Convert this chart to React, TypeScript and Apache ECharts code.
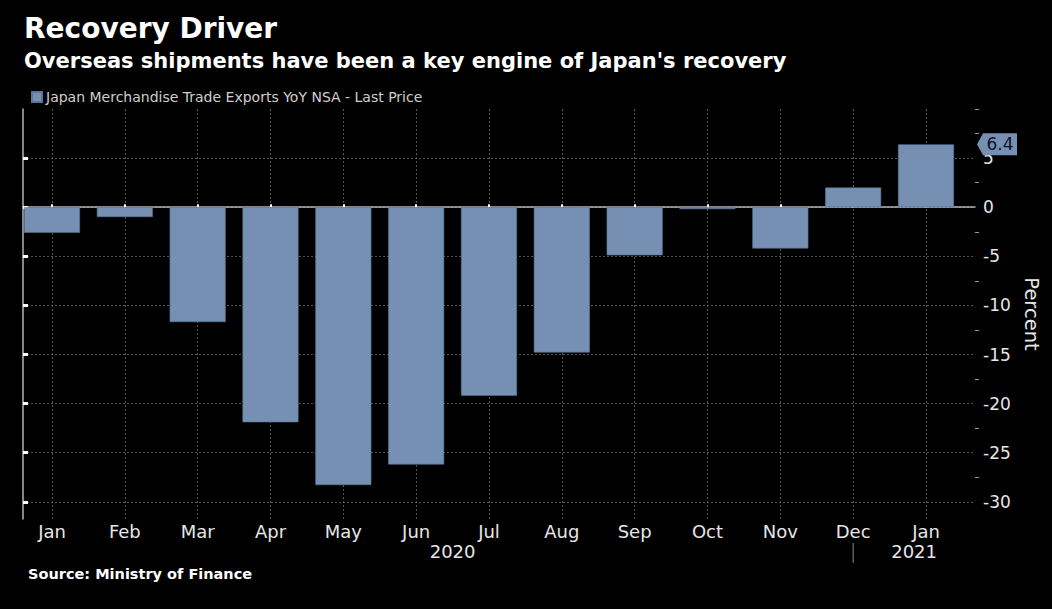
import React, { useEffect, useRef } from "react";
import * as echarts from "echarts";

const monthLabels = ["Jan", "Feb", "Mar", "Apr", "May", "Jun", "Jul", "Aug", "Sep", "Oct", "Nov", "Dec", "Jan"];
const exportsYoY = [-2.6, -1.0, -11.7, -21.9, -28.3, -26.2, -19.2, -14.8, -4.9, -0.2, -4.2, 2.0, 6.4];
const yMajorTicks = [-30, -25, -20, -15, -10, -5, 0, 5];
const yMinorTicks = [-27.5, -22.5, -17.5, -12.5, -7.5, -2.5, 2.5, 7.5, 10];
const yearLabels = ["2020", "2021"];
const Y_MIN = -31.75;
const Y_MAX = 10;

const FONT = "'DejaVu Sans', sans-serif";
const BAR_COLOR = "#7690b4";
const TEXT = "#e6e6e6";
const GRID_COLOR = "#555";
const AXIS_COLOR = "#b4b4b4";

const TOP = 109;
const BOTTOM = 90;

export default function App() {
  const ref = useRef<HTMLDivElement>(null);

  useEffect(() => {
    const el = ref.current!;
    const chart = echarts.init(el, null, { renderer: "svg" });
    const option: any = {
      animation: false,
      backgroundColor: "#000",
      textStyle: { fontFamily: FONT },
      title: [
        {
          text: "Recovery Driver",
          left: 19,
          top: 9,
          textStyle: { color: "#fff", fontSize: 28, fontWeight: "bold", fontFamily: FONT, lineHeight: 28 },
        },
        {
          text: "Overseas shipments have been a key engine of Japan's recovery",
          left: 19,
          top: 45,
          textStyle: { color: "#fff", fontSize: 21, fontWeight: "bold", fontFamily: FONT, lineHeight: 21 },
        },
        {
          text: "Source: Ministry of Finance",
          left: 23,
          top: 561,
          textStyle: { color: "#fff", fontSize: 14.5, fontWeight: "bold", fontFamily: FONT, lineHeight: 15 },
        },
      ],
      legend: {
        left: 26,
        top: 85,
        icon: "rect",
        itemWidth: 10,
        itemHeight: 10,
        itemGap: 10,
        textStyle: { color: "#cfcfcf", fontSize: 14, fontFamily: FONT, padding: [0, 0, 0, -1] },
        data: ["Japan Merchandise Trade Exports YoY NSA - Last Price"],
      },
      grid: [
        { left: 52, right: 126, top: TOP, bottom: BOTTOM, containLabel: false },
        { left: 23, right: 77, top: TOP, bottom: BOTTOM, containLabel: false },
      ],
      xAxis: [
        {
          type: "category",
          gridIndex: 0,
          data: monthLabels,
          boundaryGap: false,
          axisLine: { show: false },
          axisTick: { show: true, inside: true, length: 3, lineStyle: { color: "#fff", width: 2 } },
          axisLabel: { color: TEXT, fontSize: 18, margin: 3, interval: 0, fontFamily: FONT },
          splitLine: { show: true, lineStyle: { color: GRID_COLOR, type: [2, 2], width: 1 } },
        },
        {
          type: "value",
          gridIndex: 1,
          min: 0,
          max: 1,
          axisLine: { show: true, lineStyle: { color: AXIS_COLOR, width: 1.5 } },
          axisTick: { show: false },
          axisLabel: { show: false },
          splitLine: { show: false },
        },
      ],
      yAxis: [
        {
          type: "value",
          gridIndex: 0,
          min: Y_MIN,
          max: Y_MAX,
          show: false,
        },
        {
          type: "value",
          gridIndex: 1,
          position: "right",
          min: Y_MIN,
          max: Y_MAX,
          name: "Percent",
          nameLocation: "middle",
          nameRotate: -90,
          nameGap: 39,
          nameTextStyle: { color: TEXT, fontSize: 19.5, fontFamily: FONT },
          axisLine: { show: true, lineStyle: { color: AXIS_COLOR, width: 1.5 } },
          axisTick: {
            show: true,
            length: 5,
            customValues: yMajorTicks,
            lineStyle: { color: "#fff", width: 3 },
          },
          axisLabel: {
            show: true,
            color: TEXT,
            fontSize: 17,
            margin: 8,
            customValues: yMajorTicks,
            fontFamily: FONT,
          },
          splitLine: { show: true, lineStyle: { color: GRID_COLOR, type: [2, 2], width: 1 } },
        },
        {
          type: "value",
          gridIndex: 1,
          position: "right",
          min: Y_MIN,
          max: Y_MAX,
          axisLine: { show: false },
          axisTick: { show: true, length: 4, customValues: yMinorTicks, lineStyle: { color: "#999", width: 1 } },
          axisLabel: { show: false },
          splitLine: { show: false },
        },
      ],
      series: [
        {
          name: "Japan Merchandise Trade Exports YoY NSA - Last Price",
          type: "bar",
          xAxisIndex: 0,
          yAxisIndex: 0,
          data: exportsYoY,
          barWidth: 56,
          clip: false,
          itemStyle: { color: BAR_COLOR, borderColor: "#5d7597", borderWidth: 0.6 },
        },
      ],
    };
    chart.setOption(option);

    // Derived annotation positions
    const axisRight = chart.convertToPixel({ xAxisIndex: 1 }, 1) as number;
    const firstX = chart.convertToPixel({ xAxisIndex: 0 }, 0) as number;
    const decX = chart.convertToPixel({ xAxisIndex: 0 }, 11) as number;
    const lastVal = exportsYoY[exportsYoY.length - 1];
    const lastY = chart.convertToPixel({ yAxisIndex: 1 }, lastVal) as number;
    const yearY = 551;

    chart.setOption({
      graphic: [
        {
          type: "polygon",
          shape: {
            points: [
              [axisRight + 2, lastY],
              [axisRight + 8, lastY - 11],
              [axisRight + 42, lastY - 11],
              [axisRight + 42, lastY + 11],
              [axisRight + 8, lastY + 11],
            ],
          },
          style: { fill: BAR_COLOR },
          z: 100,
        },
        {
          type: "text",
          x: axisRight + 25,
          y: lastY,
          style: {
            text: lastVal.toFixed(1),
            fill: "#0d1220",
            font: `17px ${FONT}`,
            textAlign: "center",
            textVerticalAlign: "middle",
          },
          z: 101,
        },
        {
          type: "text",
          x: (firstX + decX) / 2,
          y: yearY,
          style: {
            text: yearLabels[0],
            fill: TEXT,
            font: `18px ${FONT}`,
            textAlign: "center",
            textVerticalAlign: "middle",
          },
        },
        {
          type: "text",
          x: (decX + axisRight) / 2,
          y: yearY,
          style: {
            text: yearLabels[1],
            fill: TEXT,
            font: `18px ${FONT}`,
            textAlign: "center",
            textVerticalAlign: "middle",
          },
        },
        {
          type: "line",
          shape: { x1: decX, y1: 543, x2: decX, y2: 563 },
          style: { stroke: "#888", lineWidth: 1 },
        },
      ],
    });

    return () => chart.dispose();
  }, []);

  return (
    <div
      ref={ref}
      style={{ position: "fixed", left: 0, top: 0, width: 1052, height: 609, background: "#000" }}
    />
  );
}
